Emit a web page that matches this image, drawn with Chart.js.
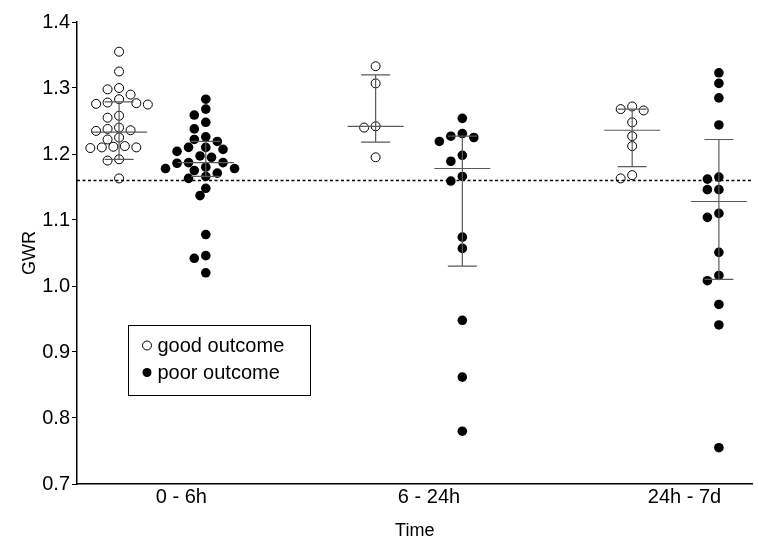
<!DOCTYPE html>
<html><head><meta charset="utf-8">
<script src="https://cdn.jsdelivr.net/npm/chart.js@4"></script>
<style>html,body{margin:0;padding:0;background:#fff}#wrap{width:758px;height:545px;position:relative}</style>
</head><body><div id="wrap"><canvas id="c" width="758" height="545"></canvas></div>
<script>
// ---- data ----
const categories = ['0 - 6h', '6 - 24h', '24h - 7d'];
const seriesNames = ['good outcome', 'poor outcome'];

const good0to6h = [1.355,1.325,1.300,1.298,1.290,1.283,1.278,1.277,1.276,1.275,1.258,1.255,1.240,1.238,1.236,1.235,1.225,1.222,1.212,1.211,1.210,1.210,1.209,1.192,1.190,1.163];
const good6to24h = [1.333,1.307,1.242,1.240,1.195];
const good24hto7d = [1.272,1.268,1.266,1.248,1.227,1.212,1.168,1.163];

const poor0to6h = [1.283,1.268,1.259,1.248,1.238,1.226,1.222,1.219,1.210,1.210,1.207,1.204,1.197,1.195,1.187,1.187,1.186,1.180,1.178,1.178,1.175,1.171,1.166,1.163,1.148,1.137,1.078,1.046,1.042,1.020];
const poor6to24h = [1.254,1.231,1.227,1.225,1.219,1.198,1.189,1.166,1.159,1.074,1.057,0.948,0.862,0.780];
const poor24hto7d = [1.323,1.307,1.285,1.244,1.165,1.162,1.146,1.146,1.110,1.104,1.051,1.016,1.008,0.972,0.941,0.755];

const goodMedian = [1.233, 1.242, 1.236];
const goodQ1     = [1.192, 1.218, 1.181];
const goodQ3     = [1.279, 1.320, 1.268];
const poorMedian = [1.187, 1.178, 1.128];
const poorQ1     = [1.166, 1.030, 1.010];
const poorQ3     = [1.219, 1.227, 1.222];

const referenceLine = 1.16;
const yTickValues = [0.7, 0.8, 0.9, 1.0, 1.1, 1.2, 1.3, 1.4];

// ---- build ----
const goodGroups = [good0to6h, good6to24h, good24hto7d];
const poorGroups = [poor0to6h, poor6to24h, poor24hto7d];
const GROUP_SHIFT = 0.169;
const LABEL_POS = [1.074, 2.039, 3.035];
const FONT = '"Liberation Sans", Arial, Helvetica, sans-serif';

function groupPoints(groups, shift) {
  const pts = [];
  groups.forEach((vals, c) => vals.forEach(v => pts.push({x: c + 1 + shift, y: v, cx: c + 1 + shift})));
  return pts;
}

const errorBarPlugin = {
  id: 'errorBars',
  afterDatasetsDraw(chart) {
    const {ctx, scales: {x, y}, chartArea} = chart;
    ctx.save();
    ctx.strokeStyle = '#000'; ctx.lineWidth = 1.3; ctx.setLineDash([3, 2.5]);
    const ry = Math.round(y.getPixelForValue(referenceLine)) + 0.5;
    ctx.beginPath(); ctx.moveTo(chartArea.left, ry); ctx.lineTo(chartArea.right, ry); ctx.stroke();
    ctx.setLineDash([]);
    ctx.strokeStyle = '#5a5a5a'; ctx.lineWidth = 1.2;
    const draw = (med, q1, q3, shift) => {
      for (let c = 0; c < categories.length; c++) {
        const px = x.getPixelForValue(c + 1 + shift);
        const pm = y.getPixelForValue(med[c]), p1 = y.getPixelForValue(q1[c]), p3 = y.getPixelForValue(q3[c]);
        ctx.beginPath();
        ctx.moveTo(px, p1); ctx.lineTo(px, p3);
        ctx.moveTo(px - 28, pm); ctx.lineTo(px + 28, pm);
        ctx.moveTo(px - 14.5, p1); ctx.lineTo(px + 14.5, p1);
        ctx.moveTo(px - 14.5, p3); ctx.lineTo(px + 14.5, p3);
        ctx.stroke();
      }
    };
    draw(goodMedian, goodQ1, goodQ3, -GROUP_SHIFT);
    draw(poorMedian, poorQ1, poorQ3, GROUP_SHIFT);
    ctx.restore();
  },
  afterDraw(chart) {
    const {ctx} = chart;
    ctx.save();
    const bx = 128.5, by = 325.5, bw = 182, bh = 70;
    ctx.strokeStyle = '#000'; ctx.lineWidth = 1;
    ctx.strokeRect(bx, by, bw, bh);
    ctx.font = '20px ' + FONT; ctx.fillStyle = '#000'; ctx.textBaseline = 'middle'; ctx.textAlign = 'left';
    chart.data.datasets.forEach((ds, i) => {
      const yy = by + 20 + i * 27;
      ctx.beginPath(); ctx.arc(bx + 18.5, yy, 4.5, 0, Math.PI * 2);
      if (i === 1) { ctx.fillStyle = '#000'; ctx.fill(); } else { ctx.strokeStyle = '#000'; ctx.stroke(); }
      ctx.fillStyle = '#000';
      ctx.fillText(ds.label, bx + 29, yy + 1);
    });
    ctx.restore();
  }
};

const chart = new Chart(document.getElementById('c'), {
  type: 'scatter',
  data: {
    datasets: [
      {label: seriesNames[0], data: groupPoints(goodGroups, -GROUP_SHIFT), pointRadius: 4.5, pointHoverRadius: 4.5,
       pointBackgroundColor: 'rgba(255,255,255,0)', pointBorderColor: '#000', pointBorderWidth: 1},
      {label: seriesNames[1], data: groupPoints(poorGroups, GROUP_SHIFT), pointRadius: 4.8, pointHoverRadius: 4.8,
       pointBackgroundColor: '#000', pointBorderColor: '#000', pointBorderWidth: 0}
    ]
  },
  options: {
    responsive: false, animation: false, devicePixelRatio: 1,
    layout: {padding: {top: 22, right: 1, left: 0, bottom: 0}},
    plugins: {legend: {display: false}, tooltip: {enabled: false}},
    scales: {
      x: {
        type: 'linear', min: 0.667, max: 3.3,
        afterFit(s) { s.height = 61; },
        afterBuildTicks(s) { s.ticks = LABEL_POS.map(v => ({value: v})); },
        grid: {display: false, drawTicks: false},
        border: {display: true, color: '#000', width: 1.5},
        ticks: {padding: 1, color: '#000', font: {size: 20, family: FONT},
                callback: (v, i) => categories[i], maxRotation: 0, autoSkip: false},
        title: {display: true, text: 'Time', color: '#000', font: {size: 18, family: FONT}, padding: {top: 0, bottom: 3}}
      },
      y: {
        min: 0.7, max: 1.4,
        afterFit(s) { s.width = 77; },
        afterBuildTicks(s) { s.ticks = yTickValues.map(v => ({value: v})); },
        grid: {display: true, drawOnChartArea: false, drawTicks: true, tickLength: 5, color: '#000', lineWidth: 1},
        border: {display: true, color: '#000', width: 1.5},
        ticks: {padding: 2, color: '#000', font: {size: 20, family: FONT}, callback: v => Number(v).toFixed(1)},
        title: {display: true, text: 'GWR', color: '#000', font: {size: 18, family: FONT}, padding: {top: 19, bottom: 0}}
      }
    }
  },
  plugins: [errorBarPlugin]
});

// beeswarm spread computed through the chart's own scales
(function spread() {
  const xs = chart.scales.x, ys = chart.scales.y;
  const pxPerUnit = xs.getPixelForValue(1) - xs.getPixelForValue(0);
  const step = 11.5, minDist = 8.8;
  chart.data.datasets.forEach(ds => {
    const byCol = {};
    ds.data.forEach(p => { (byCol[p.cx] = byCol[p.cx] || []).push(p); });
    Object.values(byCol).forEach(pts => {
      const order = pts.slice().sort((a, b) => b.y - a.y);
      const placed = [];
      order.forEach(p => {
        const py = ys.getPixelForValue(p.y);
        const cands = [0];
        for (let k = 1; k <= 14; k++) cands.push(-k * step / 2, k * step / 2);
        for (const dx of cands) {
          if (placed.every(q => Math.hypot(q.dx - dx, q.py - py) >= minDist)) {
            placed.push({dx, py}); p.x = p.cx + dx / pxPerUnit; break;
          }
        }
      });
    });
  });
  chart.update('none');
})();
</script></body></html>
